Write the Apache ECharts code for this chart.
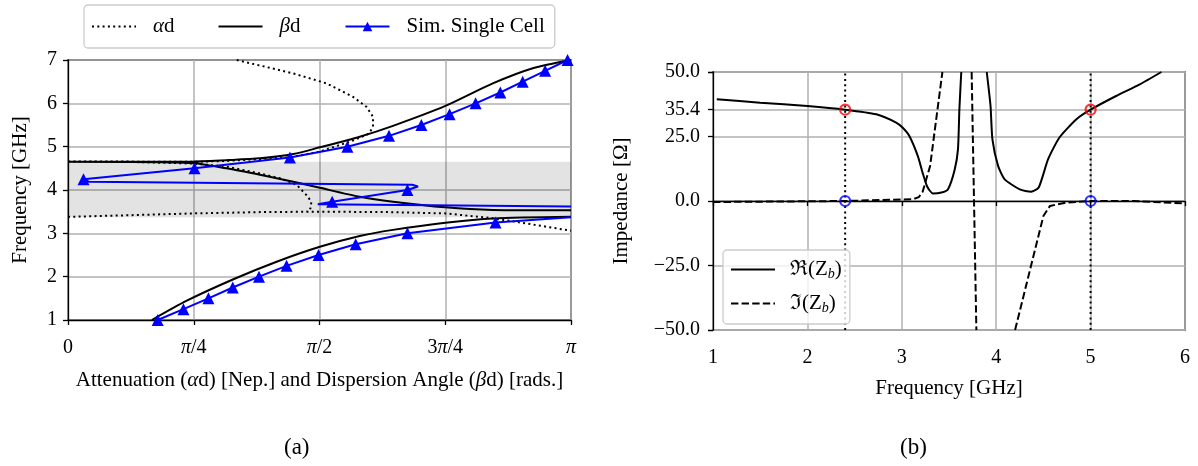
<!DOCTYPE html>
<html><head><meta charset="utf-8">
<script src="https://cdn.jsdelivr.net/npm/echarts@6/dist/echarts.min.js"></script>
<style>html,body{margin:0;padding:0;background:#fff}#c{width:1198px;height:466px}</style>
</head><body><div id="c"></div>
<script>
// ---------- (a) dispersion diagram data: [dispersion angle (rad), frequency (GHz)], null = break ----------
const alphaD = [
  [0.0,3.38],[0.4,3.42],[0.785,3.46],[1.2,3.49],[1.573,3.50],[2.0,3.49],[2.357,3.46],[2.65,3.35],[2.86,3.23],[3.1416,3.06],
  null,
  [0.0,4.66],[0.37,4.65],[0.785,4.61],[0.99,4.54],[1.2,4.38],[1.324,4.27],[1.428,4.12],[1.49,3.88],[1.52,3.73],[1.515,3.58],[1.49,3.50],
  null,
  [1.054,7.0],[1.407,6.69],[1.615,6.46],[1.78,6.15],[1.864,5.92],[1.905,5.69],[1.905,5.46],[1.88,5.30],[1.78,5.14],[1.573,4.885],[1.386,4.755],[0.99,4.67],[0.785,4.65],[0.0,4.66]
];
const betaD = [
  [0.524,1.0],[0.742,1.445],[1.033,1.94],[1.303,2.345],[1.573,2.69],[1.822,2.94],[2.03,3.08],[2.357,3.245],[2.653,3.345],[3.1416,3.385],
  null,
  [0.0,4.65],[0.785,4.66],[1.0,4.69],[1.199,4.73],[1.407,4.83],[1.573,4.985],[1.822,5.23],[2.03,5.48],[2.357,5.94],[2.653,6.46],[2.903,6.81],[3.1416,7.0],
  null,
  [0.0,4.65],[0.785,4.62],[0.99,4.50],[1.199,4.35],[1.407,4.19],[1.573,4.05],[1.822,3.845],[2.03,3.73],[2.357,3.60],[2.653,3.54],[3.1416,3.53]
];
// simulated single cell: [angle, freq, marker(1/0)]
const simCell = [
  [0.56,1.0,1],[0.721,1.25,1],[0.877,1.5,1],[1.029,1.75,1],[1.193,2.0,1],[1.365,2.25,1],[1.565,2.5,1],[1.797,2.75,1],[2.12,3.0,1],[2.67,3.25,1],[3.1416,3.37,0],
  null,
  [3.1416,3.62,0],[1.56,3.67,0],[1.65,3.73,1],[2.12,4.0,1],[2.186,4.08,0],[2.15,4.12,0],[0.13,4.19,0],[0.097,4.25,1],[0.79,4.5,1],[1.386,4.75,1],[1.745,5.0,1],[2.005,5.25,1],[2.207,5.5,1],[2.383,5.75,1],[2.546,6.0,1],[2.70,6.25,1],[2.84,6.5,1],[2.98,6.75,1],[3.12,7.0,1]
];
const stopBand = [3.37, 4.65];
const angleTickLabels = ['0', '{i|π}/4', '{i|π}/2', '3{i|π}/4', '{i|π}'];

// ---------- (b) Bloch impedance data: [frequency (GHz), ohm] ----------
const reZb = [
  [1.04,39.4],[1.5,38.1],[2.0,36.8],[2.4,35.4],[2.73,33.6],[2.94,30.4],[3.01,28.4],[3.08,25.2],[3.17,17.4],[3.22,11.0],[3.27,5.5],[3.33,2.9],[3.42,3.3],[3.49,4.6],[3.56,12.1],[3.595,20.0],[3.61,35.5],[3.63,50],
  null,
  [3.90,50],[3.94,36.8],[3.96,23.9],[4.02,13.6],[4.09,8.4],[4.25,4.5],[4.37,3.6],[4.45,5.2],[4.55,16.2],[4.67,24.6],[4.85,31.7],[5.0,35.4],[5.27,40.7],[5.52,45.2],[5.75,50]
];
const imZb = [
  [1.0,-0.4],[2.4,0.0],[3.12,0.7],[3.18,1.5],[3.22,3.5],[3.30,13.6],[3.43,50],
  null,
  [3.74,50],[3.79,-50],
  null,
  [4.20,-50],[4.50,-5.8],[4.57,-1.9],[4.74,-0.6],[5.0,0.0],[5.45,0.0],[5.98,-0.9]
];
const opFreqs = [2.4, 5.0];
const opRe = 35.4;
const opIm = 0.0;

const FONT = 'Liberation Serif';
const FS = 20;   // tick labels
const NS = 21;   // axis names / legend
const toData = arr => arr.map(p => p === null ? ['-','-'] : [p[0], p[1]]);
const gridLine = {show:true, lineStyle:{color:'#b0b0b0', width:1.5}};
const axisLine = {show:true, lineStyle:{color:'#000', width:1.3}};
const axisTick = {show:true, length:5, lineStyle:{color:'#000', width:1.3}};
const lbl = {color:'#000', fontFamily:FONT, fontSize:FS};

// legend line icons drawn as filled paths in a 44x12 box (corner specks fix the bounds)
function linePath(dash, gap) {
  const W = 44, H = 12, y0 = 5, y1 = 7;
  let p = 'path://M0,0L0.01,0L0.01,0.01L0,0.01Z M44,12L43.99,12L43.99,11.99L44,11.99Z ';
  if (!dash) return p + `M0,${y0}L${W},${y0}L${W},${y1}L0,${y1}Z`;
  for (let x = 0; x < W; x += dash + gap) {
    const e = Math.min(W, x + dash);
    p += `M${x},${y0}L${e},${y0}L${e},${y1}L${x},${y1}Z `;
  }
  return p;
}

const chart = echarts.init(document.getElementById('c'), null, {renderer:'canvas'});
chart.setOption({
  animation:false,
  backgroundColor:'#fff',
  textStyle:{fontFamily:FONT},
  title:[
    {text:'(a)', left:279, top:431, textStyle:{fontFamily:FONT, fontSize:23, fontWeight:'normal', color:'#000'}},
    {text:'(b)', left:895, top:431, textStyle:{fontFamily:FONT, fontSize:23, fontWeight:'normal', color:'#000'}}
  ],
  grid:[
    {left:68, top:60, width:503, height:260, show:true, borderColor:'#000', borderWidth:1.3, containLabel:false},
    {left:713, top:72, width:472, height:258, show:true, borderColor:'#000', borderWidth:1.3, containLabel:false}
  ],
  legend:[
    {data:[{name:'αd', icon:linePath(2, 3.3)},{name:'βd', icon:linePath(0,0)},{name:'Sim. Single Cell'}],
     left:84, top:5, orient:'horizontal',
     itemWidth:44, itemHeight:12, itemGap:44, padding:[11,10,11,8],
     borderColor:'#cccccc', borderWidth:1.3, borderRadius:4, backgroundColor:'#fff',
     textStyle:{fontFamily:FONT, fontSize:NS, color:'#000', padding:[0,0,0,12],
       rich:{i:{fontFamily:FONT, fontSize:NS, fontStyle:'italic', color:'#000'}}},
     formatter: n => n === 'αd' ? '{i|α}d' : (n === 'βd' ? '{i|β}d' : n)},
    {data:[{name:'Re', icon:linePath(0,0)},{name:'Im', icon:linePath(7.4,3.2)}], left:723, top:250, orient:'vertical',
     itemWidth:44, itemHeight:12, itemGap:12, padding:[9,8,9,8],
     borderColor:'#cccccc', borderWidth:1.3, borderRadius:4, backgroundColor:'rgba(255,255,255,0.8)',
     textStyle:{fontFamily:FONT, fontSize:NS, color:'#000', padding:[0,0,0,10],
       rich:{s:{fontFamily:FONT, fontSize:14, fontStyle:'italic', color:'#000', padding:[9,0,0,0]}}},
     formatter: n => n === 'Re' ? 'ℜ(Z{s|b})' : 'ℑ(Z{s|b})'}
  ],
  xAxis:[
    {gridIndex:0, type:'value', min:0, max:Math.PI, interval:Math.PI/4,
     name:'Attenuation ({i|α}d) [Nep.] and Dispersion Angle ({i|β}d) [rads.]', nameLocation:'middle', nameGap:50,
     nameTextStyle:{fontFamily:FONT, fontSize:NS, color:'#000', rich:{i:{fontFamily:FONT, fontSize:NS, fontStyle:'italic', color:'#000'}}},
     axisLine, axisTick, splitLine:gridLine,
     axisLabel:Object.assign({}, lbl, {margin:18, formatter:(v)=>angleTickLabels[Math.round(v/(Math.PI/4))],
        rich:{i:{fontFamily:FONT, fontSize:FS, fontStyle:'italic', color:'#000'}}})},
    {gridIndex:1, type:'value', min:1, max:6, interval:1,
     name:'Frequency [GHz]', nameLocation:'middle', nameGap:48,
     nameTextStyle:{fontFamily:FONT, fontSize:NS, color:'#000'},
     axisLine, axisTick, splitLine:gridLine,
     axisLabel:Object.assign({}, lbl, {margin:18})}
  ],
  yAxis:[
    {gridIndex:0, type:'value', min:1, max:7, interval:1,
     name:'Frequency [GHz]', nameLocation:'middle', nameGap:37,
     nameTextStyle:{fontFamily:FONT, fontSize:NS, color:'#000'},
     axisLine, axisTick, splitLine:gridLine,
     axisLabel:Object.assign({}, lbl, {margin:11})},
    {gridIndex:1, type:'value', min:-50, max:50, interval:25,
     name:'Impedance [Ω]', nameLocation:'middle', nameGap:81,
     nameTextStyle:{fontFamily:FONT, fontSize:NS, color:'#000'},
     axisLine, axisTick, splitLine:gridLine,
     axisLabel:Object.assign({}, lbl, {margin:13, formatter:v => (v<0?'−':'') + Math.abs(v).toFixed(1)})},
    {gridIndex:1, type:'value', min:0, max:100, interval:85.4, position:'left',
     axisLine:{show:false}, axisTick, splitLine:gridLine,
     axisLabel:Object.assign({}, lbl, {margin:13, formatter:v => Math.abs(v-85.4)<1e-6 ? (opRe).toFixed(1) : ''})}
  ],
  series:[
    {name:'αd', type:'line', xAxisIndex:0, yAxisIndex:0, data:toData(alphaD), symbol:'none', smooth:false,
     color:'#000', lineStyle:{color:'#000', width:2, type:[2,3.3]}, z:3,
     markArea:{silent:true, itemStyle:{color:'rgba(0,0,0,0.11)'}, data:[[{yAxis:stopBand[0]},{yAxis:stopBand[1]}]]}},
    {name:'βd', type:'line', xAxisIndex:0, yAxisIndex:0, data:toData(betaD), symbol:'none', smooth:0.25,
     color:'#000', lineStyle:{color:'#000', width:2}, z:3},
    {name:'Sim. Single Cell', type:'line', xAxisIndex:0, yAxisIndex:0, symbol:'triangle', symbolSize:12,
     data:simCell.map(p => p === null ? ['-','-'] : {value:[p[0],p[1]], symbol: p[2] ? 'triangle' : 'none'}),
     color:'#0000ff', itemStyle:{color:'#0000ff'}, lineStyle:{color:'#0000ff', width:2}, z:4},
    {name:'Re', type:'line', xAxisIndex:1, yAxisIndex:1, data:toData(reZb), symbol:'none', smooth:0.2,
     color:'#000', lineStyle:{color:'#000', width:2}, z:3},
    {name:'Im', type:'line', xAxisIndex:1, yAxisIndex:1, data:toData(imZb), symbol:'none',
     color:'#000', lineStyle:{color:'#000', width:2, type:[7.4,3.2]}, z:3},
    {name:'op', type:'line', xAxisIndex:1, yAxisIndex:1, symbol:'none',
     data:opFreqs.flatMap((f,i) => (i ? [['-','-']] : []).concat([[f,-50],[f,50]])),
     lineStyle:{color:'#000', width:2, type:[2,3.3]}, z:2},
    {name:'opRe', type:'scatter', xAxisIndex:1, yAxisIndex:1, data:opFreqs.map(f=>[f,opRe]),
     symbol:'circle', symbolSize:10, itemStyle:{color:'rgba(255,255,255,0)', borderColor:'#ff0000', borderWidth:2.2}, z:5},
    {name:'opIm', type:'scatter', xAxisIndex:1, yAxisIndex:1, data:opFreqs.map(f=>[f,opIm]),
     symbol:'circle', symbolSize:10, itemStyle:{color:'rgba(255,255,255,0)', borderColor:'#0000ff', borderWidth:2.2}, z:5}
  ]
});
</script></body></html>
